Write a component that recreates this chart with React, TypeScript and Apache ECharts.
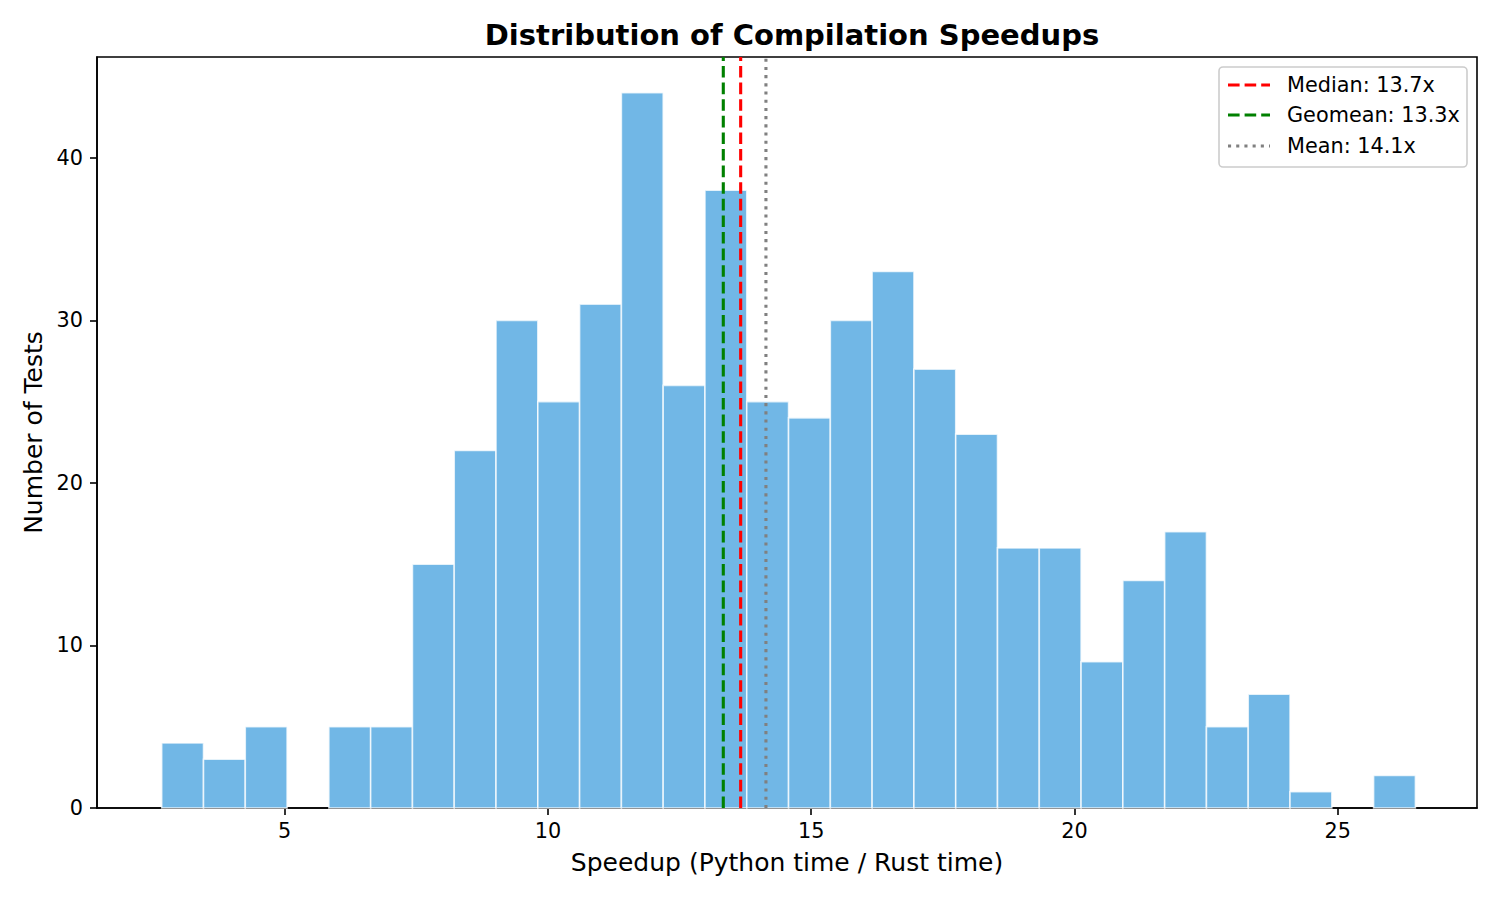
import React, { useEffect, useRef } from "react";
import * as echarts from "echarts";

// Histogram of per-test speedups (30 equal-width bins)
const binStart = 2.664;
const binWidth = 0.7937;
const counts = [
  4, 3, 5, 0, 5, 5, 15, 22, 30, 25, 31, 44, 26, 38, 25, 24, 30, 33, 27, 23,
  16, 16, 9, 14, 17, 5, 7, 1, 0, 2,
];

// Summary statistics drawn as vertical reference lines
const statNames = ["Median", "Geomean", "Mean"];
const statValues = [13.66, 13.33, 14.14];
const statColors = ["#ff0000", "#008000", "#808080"];
const statDashes = [
  [11.6, 5],
  [11.6, 5],
  [3.1, 5.1],
];

const xTicks = [5, 10, 15, 20, 25];
const yTicks = [0, 10, 20, 30, 40];
const xRange = [1.435, 27.645];
const yRange = [0, 46.2];

const FONT = "DejaVu Sans";

export default function App() {
  const ref = useRef<HTMLDivElement>(null);

  useEffect(() => {
    if (!ref.current) return;
    const chart = echarts.init(ref.current, undefined, { renderer: "svg" });

    const bins = counts.map((c, i) => [
      binStart + i * binWidth,
      binStart + (i + 1) * binWidth,
      c,
    ]);

    const statSeries = statNames.map((name, i) => ({
      name,
      type: "line" as const,
      data: [
        [statValues[i], yRange[0]],
        [statValues[i], yRange[1]],
      ],
      symbol: "none",
      silent: true,
      z: 5,
      lineStyle: {
        color: statColors[i],
        width: 3.1,
        type: statDashes[i],
        cap: "butt",
      },
    }));

    // Legend box (upper right)
    const legendX = 1219;
    const legendY = 67;
    const rowYs = [85, 115, 146];
    const legendItems: any[] = [
      {
        type: "rect",
        shape: { x: legendX, y: legendY, width: 248, height: 100, r: 4 },
        style: { fill: "rgba(255,255,255,0.8)", stroke: "#cccccc", lineWidth: 1.6 },
        z: 10,
      },
    ];
    statNames.forEach((name, i) => {
      legendItems.push({
        type: "line",
        shape: { x1: legendX + 9, y1: rowYs[i], x2: legendX + 51, y2: rowYs[i] },
        style: {
          stroke: statColors[i],
          lineWidth: 3.1,
          lineDash: statDashes[i],
          lineCap: "butt",
        },
        z: 11,
      });
      legendItems.push({
        type: "text",
        x: legendX + 68,
        y: rowYs[i],
        style: {
          text: `${name}: ${statValues[i].toFixed(1)}x`,
          fontFamily: FONT,
          fontSize: 20.8,
          fill: "#000",
          verticalAlign: "middle",
          align: "left",
        },
        z: 11,
      });
    });

    chart.setOption({
      animation: false,
      backgroundColor: "#ffffff",
      title: {
        text: "Distribution of Compilation Speedups",
        left: 787,
        textAlign: "center",
        top: 15,
        textStyle: {
          fontFamily: FONT,
          fontSize: 29,
          fontWeight: "bold",
          color: "#000",
        },
      },
      grid: {
        left: 97,
        right: 23,
        top: 57,
        bottom: 92,
        show: true,
        borderColor: "#000",
        borderWidth: 1.6,
        backgroundColor: "transparent",
      },
      xAxis: {
        type: "value",
        min: xRange[0],
        max: xRange[1],
        name: "Speedup (Python time / Rust time)",
        nameLocation: "middle",
        nameGap: 42,
        nameTextStyle: { fontFamily: FONT, fontSize: 25, color: "#000" },
        axisLine: { show: true, lineStyle: { color: "#000", width: 1.6 } },
        axisTick: {
          show: true,
          length: 7,
          lineStyle: { color: "#000", width: 1.6 },
          customValues: xTicks,
        },
        axisLabel: {
          fontFamily: FONT,
          fontSize: 20.8,
          color: "#000",
          margin: 12,
          customValues: xTicks,
        },
        splitLine: { show: false },
      },
      yAxis: {
        type: "value",
        min: yRange[0],
        max: yRange[1],
        name: "Number of Tests",
        nameLocation: "middle",
        nameGap: 50,
        nameTextStyle: { fontFamily: FONT, fontSize: 25, color: "#000" },
        axisLine: { show: true, lineStyle: { color: "#000", width: 1.6 } },
        axisTick: {
          show: true,
          length: 7,
          lineStyle: { color: "#000", width: 1.6 },
          customValues: yTicks,
        },
        axisLabel: {
          fontFamily: FONT,
          fontSize: 20.8,
          color: "#000",
          margin: 14,
          customValues: yTicks,
        },
        splitLine: { show: false },
      },
      series: [
        {
          name: "Speedups",
          type: "custom",
          data: bins,
          encode: { x: [0, 1], y: 2 },
          z: 2,
          renderItem: (params: any, api: any) => {
            const left = api.value(0);
            const right = api.value(1);
            const count = api.value(2);
            if (!count) return null;
            const p0 = api.coord([left, count]);
            const p1 = api.coord([right, 0]);
            return {
              type: "rect",
              shape: { x: p0[0], y: p0[1], width: p1[0] - p0[0], height: p1[1] - p0[1] },
              style: {
                fill: "#71b7e6",
                stroke: "rgba(255,255,255,0.75)",
                lineWidth: 1.6,
              },
            };
          },
        },
        ...statSeries,
      ],
      graphic: legendItems,
    });

    return () => chart.dispose();
  }, []);

  return (
    <div
      ref={ref}
      style={{ position: "fixed", left: 0, top: 0, width: 1500, height: 900 }}
    />
  );
}
